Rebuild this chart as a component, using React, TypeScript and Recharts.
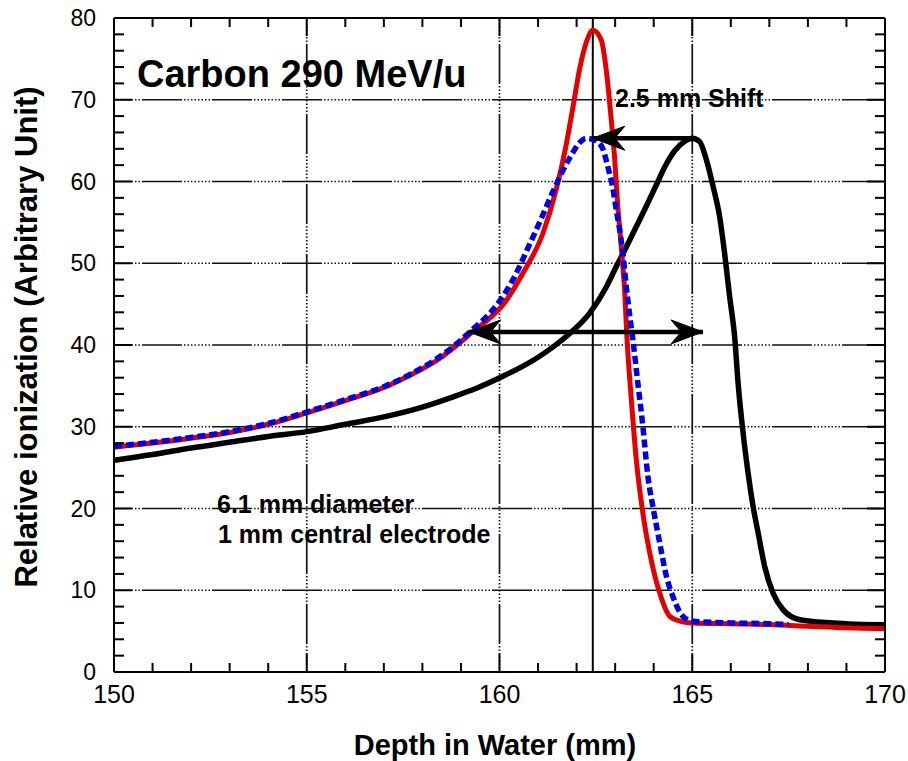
import React from "react";
import {
  LineChart,
  Line,
  XAxis,
  YAxis,
  ReferenceLine,
  ReferenceArea,
} from "recharts";

const FONT = "'Liberation Sans', Arial, Helvetica, sans-serif";

// depth in water (mm), relative ionization
const redCurve: [number, number][] = [
  [150, 27.5], [151, 28.0], [152, 28.6], [153, 29.3], [154, 30.3], [155, 31.7],
  [156, 33.2], [157, 34.8], [157.8, 36.6], [158.4, 38.2], [158.9, 40.0],
  [159.3, 41.6], [159.7, 43.1], [160.09, 44.9], [160.61, 48.8], [161.13, 53.7],
  [161.47, 59.0], [161.73, 64.5], [161.92, 69.5], [162.08, 73.8], [162.25, 77.0],
  [162.42, 78.5], [162.64, 77.3], [162.77, 73.6], [162.9, 67.5], [162.99, 62.6],
  [163.07, 56.9], [163.16, 52.0], [163.25, 46.3], [163.3, 41.4], [163.42, 33.3],
  [163.55, 25.9], [163.72, 19.4], [163.9, 14.5], [164.16, 9.6], [164.42, 6.8],
  [164.7, 6.2], [165.0, 6.0], [166, 5.9], [167, 5.8], [168, 5.6], [169, 5.4],
  [170, 5.3],
];

const blueCurve: [number, number][] = [
  [150, 27.6], [151, 28.1], [152, 28.7], [153, 29.4], [154, 30.4], [155, 31.8],
  [156, 33.3], [157, 34.9], [157.8, 36.7], [158.4, 38.4], [158.9, 40.2],
  [159.3, 41.9], [159.83, 44.3], [160.35, 48.0], [160.78, 52.3], [161.04, 55.0],
  [161.38, 58.7], [161.64, 61.3], [161.86, 63.2], [162.05, 64.6], [162.25, 65.3],
  [162.5, 65.0], [162.68, 64.0], [162.81, 61.8], [162.94, 59.2], [163.03, 56.5],
  [163.12, 54.0], [163.2, 51.2], [163.29, 47.1], [163.38, 43.5], [163.46, 40.6],
  [163.59, 35.3], [163.72, 30.0], [163.85, 23.9], [163.98, 20.2], [164.16, 15.7],
  [164.33, 11.7], [164.5, 9.2], [164.76, 6.8], [165.02, 6.2], [166, 6.0],
  [167, 5.9], [167.5, 5.8],
];

const blackCurve: [number, number][] = [
  [150, 25.9], [151, 26.6], [152, 27.4], [153, 28.1], [154, 28.8], [155, 29.4],
  [156, 30.3], [157, 31.2], [158, 32.4], [158.7, 33.5], [159.4, 34.7],
  [160.1, 36.2], [160.9, 38.2], [161.4, 39.8], [161.82, 41.4], [162.34, 43.9],
  [162.77, 47.1], [163.03, 49.6], [163.29, 52.0], [163.55, 54.5], [163.81, 57.0],
  [164.07, 59.6], [164.3, 61.9], [164.55, 63.8], [164.8, 64.9], [165.0, 65.3],
  [165.19, 64.9], [165.37, 62.6], [165.54, 59.4], [165.71, 55.7], [165.84, 51.2],
  [165.97, 45.9], [166.1, 41.0], [166.19, 35.3], [166.32, 29.2], [166.45, 24.3],
  [166.58, 20.2], [166.71, 17.0], [166.88, 12.9], [167.1, 9.6], [167.36, 7.6],
  [167.79, 6.4], [168.66, 6.0], [170, 5.75],
];

// "2.5 mm Shift" arrow (peak to peak) and the range arrow below it
const shiftArrow: [number, number][] = [[164.95, 65.3], [162.42, 65.3]];
const rangeArrow: [number, number][] = [[159.2, 41.6], [165.28, 41.6]];

const peakDepth = 162.42;

const xLabels = [150, 155, 160, 165, 170];
const xTicks = [
  150, 151, 152, 153, 154, 155, 156, 157, 158, 159, 160,
  161, 162, 163, 164, 165, 166, 167, 168, 169, 170,
];
const yLabels = [0, 10, 20, 30, 40, 50, 60, 70, 80];
const yTicks = [
  0, 2, 4, 6, 8, 10, 12, 14, 16, 18, 20, 22, 24, 26, 28, 30, 32, 34, 36, 38, 40,
  42, 44, 46, 48, 50, 52, 54, 56, 58, 60, 62, 64, 66, 68, 70, 72, 74, 76, 78, 80,
];
const xGrid = [155, 160, 165];
const yGrid = [10, 20, 30, 40, 50, 60, 70];

const toPts = (c: [number, number][]) => c.map(([x, y]) => ({ x, y }));

const GRID_DASH =
  "1.5 2 1.5 2 1.5 2 1.5 2 1.5 2 1.5 2 1.5 2 1.5 2 40 2";

const BottomTick = (props: any) => {
  const { x, y, payload } = props;
  const major = xLabels.includes(payload.value);
  return (
    <g>
      <line x1={x} y1={y} x2={x} y2={y - (major ? 18 : 9)} stroke="#000" strokeWidth={2} />
      {major && (
        <text x={x} y={y + 31} textAnchor="middle" fontSize={25} fontFamily={FONT} fill="#000">
          {payload.value}
        </text>
      )}
    </g>
  );
};

const TopTick = (props: any) => {
  const { x, y, payload } = props;
  const major = xLabels.includes(payload.value);
  return <line x1={x} y1={y} x2={x} y2={y + (major ? 18 : 9)} stroke="#000" strokeWidth={2} />;
};

const LeftTick = (props: any) => {
  const { x, y, payload } = props;
  const major = yLabels.includes(payload.value);
  return (
    <g>
      <line x1={x} y1={y} x2={x + (major ? 18 : 10)} y2={y} stroke="#000" strokeWidth={2} />
      {major && (
        <text x={x - 18} y={y + 8} textAnchor="end" fontSize={23} fontFamily={FONT} fill="#000">
          {payload.value}
        </text>
      )}
    </g>
  );
};

const RightTick = (props: any) => {
  const { x, y, payload } = props;
  const major = yLabels.includes(payload.value);
  return <line x1={x} y1={y} x2={x - (major ? 18 : 10)} y2={y} stroke="#000" strokeWidth={2} />;
};

const arrowDot = (pts: { x: number; y: number }[], heads: number[]) => (props: any) => {
  const { cx, cy, index } = props;
  if (!heads.includes(index) || cx == null) return <g key={`a-${index}`} />;
  const other = pts[index === 0 ? 1 : 0];
  const dir = pts[index].x > other.x ? 1 : -1;
  const d = `M ${cx} ${cy} L ${cx - dir * 32} ${cy - 12} L ${cx - dir * 22} ${cy} L ${cx - dir * 32} ${cy + 12} Z`;
  return <path key={`a-${index}`} d={d} fill="#000" stroke="#000" strokeWidth={1} />;
};

const axisCommon = {
  type: "number" as const,
  interval: 0 as const,
  allowDataOverflow: true,
  tickSize: 0,
  tickMargin: 0,
  tickLine: false,
  axisLine: { stroke: "#000", strokeWidth: 2 },
};

export default function App() {
  const red = toPts(redCurve);
  const blue = toPts(blueCurve);
  const black = toPts(blackCurve);
  const shift = toPts(shiftArrow);
  const range = toPts(rangeArrow);

  return (
    <div style={{ position: "absolute", left: 0, top: 0, width: 908, height: 761, background: "#fff" }}>
      <LineChart width={908} height={761} margin={{ top: 8, right: 13, bottom: 49, left: 54 }}>
        <XAxis {...axisCommon} xAxisId={0} dataKey="x" domain={[150, 170]} ticks={xTicks} height={40} tick={BottomTick} />
        <XAxis {...axisCommon} xAxisId="top" orientation="top" dataKey="x" domain={[150, 170]} ticks={xTicks} height={10} tick={TopTick} />
        <YAxis {...axisCommon} yAxisId={0} domain={[0, 80]} ticks={yTicks} width={60} tick={LeftTick} />
        <YAxis {...axisCommon} yAxisId="right" orientation="right" domain={[0, 80]} ticks={yTicks} width={10} tick={RightTick} />

        {yGrid.map((v) => (
          <ReferenceLine key={`gy${v}`} y={v} stroke="#111" strokeWidth={1.7} strokeDasharray={GRID_DASH} />
        ))}
        {xGrid.map((v) => (
          <ReferenceLine key={`gx${v}`} x={v} stroke="#111" strokeWidth={1.7} strokeDasharray={GRID_DASH} />
        ))}
        <ReferenceLine x={peakDepth} stroke="#000" strokeWidth={2} />

        <ReferenceArea x1={150.4} x2={159.45} y1={70.4} y2={76.5} fill="#fff" fillOpacity={1} stroke="none" />
        <ReferenceArea x1={162.95} x2={167.15} y1={67.8} y2={72.6} fill="#fff" fillOpacity={1} stroke="none" />
        <ReferenceArea x1={152.55} x2={160.15} y1={13.7} y2={23.1} fill="#fff" fillOpacity={1} stroke="none" />

        <Line
          data={black}
          xAxisId="top"
          yAxisId="right"
          dataKey="y"
          stroke="none"
          dot={false}
          activeDot={false}
          isAnimationActive={false}
        />
        <Line data={black} dataKey="y" type="monotone" stroke="#000" strokeWidth={5.5} dot={false} activeDot={false} isAnimationActive={false} />
        <Line data={red} dataKey="y" type="monotone" stroke="#e30000" strokeWidth={5} dot={false} activeDot={false} isAnimationActive={false} />
        <Line data={blue} dataKey="y" type="monotone" stroke="#0000e6" strokeWidth={5.5} strokeDasharray="8 4" dot={false} activeDot={false} isAnimationActive={false} />
        <Line data={shift} dataKey="y" type="linear" stroke="#000" strokeWidth={4.5} dot={arrowDot(shift, [1])} activeDot={false} isAnimationActive={false} />
        <Line data={range} dataKey="y" type="linear" stroke="#000" strokeWidth={4.5} dot={arrowDot(range, [0, 1])} activeDot={false} isAnimationActive={false} />
      </LineChart>

      <svg
        width={908}
        height={761}
        style={{ position: "absolute", left: 0, top: 0, pointerEvents: "none" }}
        fontFamily={FONT}
        fontWeight="bold"
        fill="#000"
      >
        <text x={137} y={87} fontSize={38}>Carbon 290 MeV/u</text>
        <text x={615} y={107} fontSize={25}>2.5 mm Shift</text>
        <text x={217} y={513} fontSize={25}>6.1 mm diameter</text>
        <text x={218} y={543} fontSize={25}>1 mm central electrode</text>
        <text x={495} y={755} fontSize={29} textAnchor="middle">Depth in Water (mm)</text>
        <text transform="translate(37,337) rotate(-90)" fontSize={31} textAnchor="middle">
          Relative ionization (Arbitrary Unit)
        </text>
      </svg>
    </div>
  );
}
